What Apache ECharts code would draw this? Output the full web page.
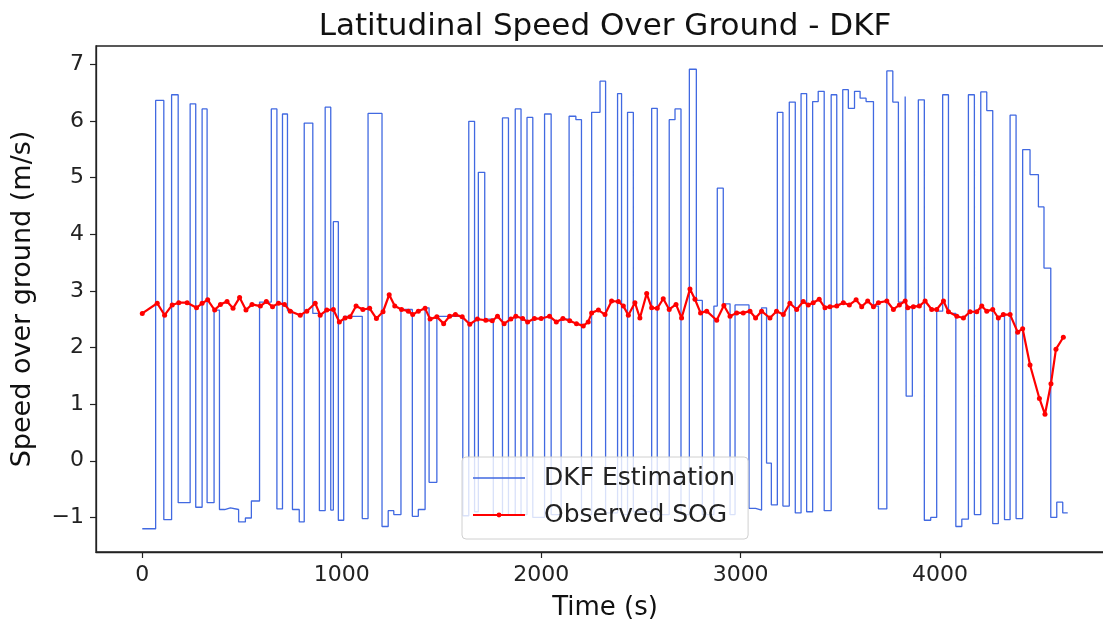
<!DOCTYPE html>
<html><head><meta charset="utf-8">
<script src="https://cdn.jsdelivr.net/npm/echarts@6/dist/echarts.min.js"></script>
<style>html,body{margin:0;padding:0;overflow:hidden;background:#fff;width:1103px;height:621px}#c{width:1120px;height:621px}</style>
</head><body><div id="c"></div>
<script>
const titleText = 'Latitudinal Speed Over Ground - DKF';
const xTicks = [0, 1000, 2000, 3000, 4000];
const yTicks = [-1, 0, 1, 2, 3, 4, 5, 6, 7];
// DKF estimation (step changes: time, value)
const dkfTime = [0,67,108,147,180,240,268,300,325,360,387,413,442,483,517,547,588,647,675,703,728,753,787,812,855,888,917,945,958,983,
1010,1103,1132,1202,1233,1261,1297,1354,1384,1418,1438,1477,1607,1637,1666,1685,1717,1760,1806,1836,1870,1899,1929,1958,2017,2050,2100,2140,2174,2202,
2253,2295,2323,2383,2403,2433,2462,2554,2582,2642,2671,2701,2743,2778,2808,2866,2883,2913,2947,2972,3042,3075,3105,3130,3154,3184,3212,3244,3274,3303,3331,3361,3389,3419,
3454,3482,3512,3540,3571,3599,3629,3666,3691,3733,3763,3791,3825,3830,3861,3891,3921,3953,3983,4013,4042,4079,4109,4142,4172,4204,4234,4264,4292,4323,4351,4381,4414,4451,4493,4521,4555,4585,4615,4640];
const dkfValue = [-1.20,6.36,-1.04,6.46,-0.74,6.30,-0.82,6.21,-0.74,2.66,-0.86,-0.83,-0.86,-1.08,-1.01,-0.71,2.80,6.21,-0.85,6.12,2.65,-0.86,-1.08,5.96,2.60,-0.88,6.24,-0.87,4.22,-1.05,
2.55,-1.02,6.13,-1.16,-0.88,-0.95,2.67,-0.98,-0.86,2.70,-0.38,2.55,-0.97,5.99,-0.90,5.09,2.50,-0.95,6.05,-0.95,6.21,-0.95,6.06,-1.00,6.12,-0.95,2.50,6.08,6.02,-0.95,
6.15,6.70,-0.92,6.48,-0.95,6.15,-0.90,6.22,-0.95,6.02,6.21,-0.95,6.91,2.83,-0.95,2.73,4.81,2.77,-0.95,2.75,-0.84,-0.87,2.70,-0.04,-0.78,6.15,-0.80,6.33,-0.92,6.48,-0.90,6.34,6.52,-0.88,
6.46,2.76,6.55,6.22,6.52,6.40,6.34,2.73,-0.85,6.88,6.33,2.80,6.43,1.14,2.73,6.37,-1.05,-1.00,2.64,6.46,2.60,-1.16,-1.03,6.46,-0.95,6.51,6.18,-1.11,2.55,-1.04,6.10,-1.02,5.49,5.05,4.48,3.40,-1.00,-0.73,-0.92,-0.92];
// Observed SOG
const sogTime = [0,75,112,150,183,225,272,300,328,363,392,425,455,488,520,550,592,622,653,683,713,742,792,825,867,892,925,958,988,1017,1042,
1072,1106,1140,1174,1207,1238,1266,1300,1334,1356,1384,1418,1443,1477,1511,1541,1570,1604,1642,1680,1722,1755,1781,1814,1848,1873,1907,1932,1966,2000,2042,2076,2109,2143,2177,2211,2236,
2253,2287,2320,2353,2387,2412,2437,2470,2495,2529,2554,2582,2612,2642,2676,2704,2746,2771,2799,2830,2880,2916,2947,2980,3013,3047,3075,3105,3147,3180,3214,3247,3281,3314,3339,3364,3394,3423,3448,
3482,3515,3545,3579,3607,3637,3666,3691,3733,3766,3796,3825,3838,3866,3896,3925,3958,3983,4017,4042,4084,4117,4150,4184,4209,4234,4264,4292,4317,4351,4389,4414,4451,4498,4526,4556,4581,4618];
const sogValue = [2.60,2.78,2.57,2.75,2.79,2.79,2.70,2.78,2.84,2.66,2.76,2.81,2.69,2.88,2.66,2.76,2.73,2.81,2.72,2.78,2.76,2.64,2.57,2.64,2.78,2.57,2.66,2.67,2.45,2.52,2.54,
2.73,2.67,2.69,2.51,2.63,2.93,2.73,2.67,2.64,2.58,2.64,2.69,2.50,2.54,2.42,2.55,2.58,2.54,2.41,2.50,2.48,2.47,2.55,2.42,2.50,2.55,2.51,2.45,2.51,2.51,2.55,2.45,2.51,2.47,2.42,2.38,2.45,
2.61,2.66,2.58,2.82,2.81,2.73,2.57,2.79,2.52,2.95,2.70,2.69,2.86,2.67,2.76,2.52,3.03,2.85,2.61,2.64,2.48,2.74,2.55,2.61,2.61,2.64,2.52,2.64,2.52,2.64,2.58,2.78,2.67,2.81,2.75,2.79,2.85,2.70,2.72,
2.73,2.79,2.75,2.84,2.72,2.82,2.72,2.79,2.82,2.67,2.75,2.82,2.70,2.72,2.73,2.82,2.67,2.67,2.82,2.63,2.55,2.52,2.63,2.63,2.73,2.64,2.67,2.52,2.58,2.58,2.27,2.33,1.69,1.10,0.82,1.36,1.97,2.18];

const FONT = 'DejaVu Sans';
const fmt = v => (v < 0 ? '\u2212' + Math.abs(v) : String(v));
const chart = echarts.init(document.getElementById('c'), null, {renderer: 'canvas'});
chart.setOption({
  animation: false,
  backgroundColor: '#fff',
  title: {
    text: titleText, left: 600, textAlign: 'center', top: 6,
    textStyle: {fontFamily: FONT, fontSize: 31, fontWeight: 'normal', color: '#111'}
  },
  grid: {left: 96, top: 46, right: 6, bottom: 69, containLabel: false, outerBoundsMode: 'none',
         show: true, borderColor: '#222', borderWidth: 1.3, backgroundColor: 'transparent'},
  legend: {
    orient: 'vertical', left: 462, top: 457,
    data: [
      {name: 'DKF Estimation', icon: 'path://M0,0H52V1.3H0Z'},
      {name: 'Observed SOG'}
    ],
    itemWidth: 52, itemHeight: 6, itemGap: 9,
    padding: [7, 13, 10, 10],
    backgroundColor: 'rgba(255,255,255,0.8)', borderColor: '#d0d0d0', borderWidth: 1, borderRadius: 4,
    textStyle: {fontFamily: FONT, fontSize: 25, color: '#222', lineHeight: 28, padding: [0, 0, 0, 14]}
  },
  xAxis: {
    type: 'value', min: -232, max: 4872,
    name: 'Time (s)', nameLocation: 'middle', nameGap: 43,
    nameTextStyle: {fontFamily: FONT, fontSize: 26, color: '#111'},
    axisLine: {show: true, onZero: false, lineStyle: {color: '#222', width: 1.3}},
    axisTick: {show: true, length: 6, lineStyle: {color: '#222', width: 1.2}, customValues: xTicks},
    axisLabel: {fontFamily: FONT, fontSize: 22, color: '#222', margin: 12, customValues: xTicks, formatter: fmt},
    splitLine: {show: false}
  },
  yAxis: {
    type: 'value', min: -1.61, max: 7.32,
    name: 'Speed over ground (m/s)', nameLocation: 'middle', nameGap: 60, nameRotate: 90,
    nameTextStyle: {fontFamily: FONT, fontSize: 27, color: '#111'},
    axisLine: {show: true, onZero: false, lineStyle: {color: '#222', width: 1.3}},
    axisTick: {show: true, length: 6, lineStyle: {color: '#222', width: 1.2}, customValues: yTicks},
    axisLabel: {fontFamily: FONT, fontSize: 22, color: '#222', margin: 12, customValues: yTicks, formatter: fmt},
    splitLine: {show: false}
  },
  series: [
    {
      name: 'DKF Estimation', type: 'line', step: 'end',
      data: dkfTime.map((t, i) => [t, dkfValue[i]]),
      showSymbol: false, symbol: 'none',
      lineStyle: {color: '#4169E1', width: 1.3},
      itemStyle: {color: '#4169E1'}, z: 2
    },
    {
      name: 'Observed SOG', type: 'line',
      data: sogTime.map((t, i) => [t, sogValue[i]]),
      symbol: 'circle', symbolSize: 5, showSymbol: true,
      lineStyle: {color: '#ff0000', width: 2.2},
      itemStyle: {color: '#ff0000'}, z: 3
    }
  ]
});
</script></body></html>
